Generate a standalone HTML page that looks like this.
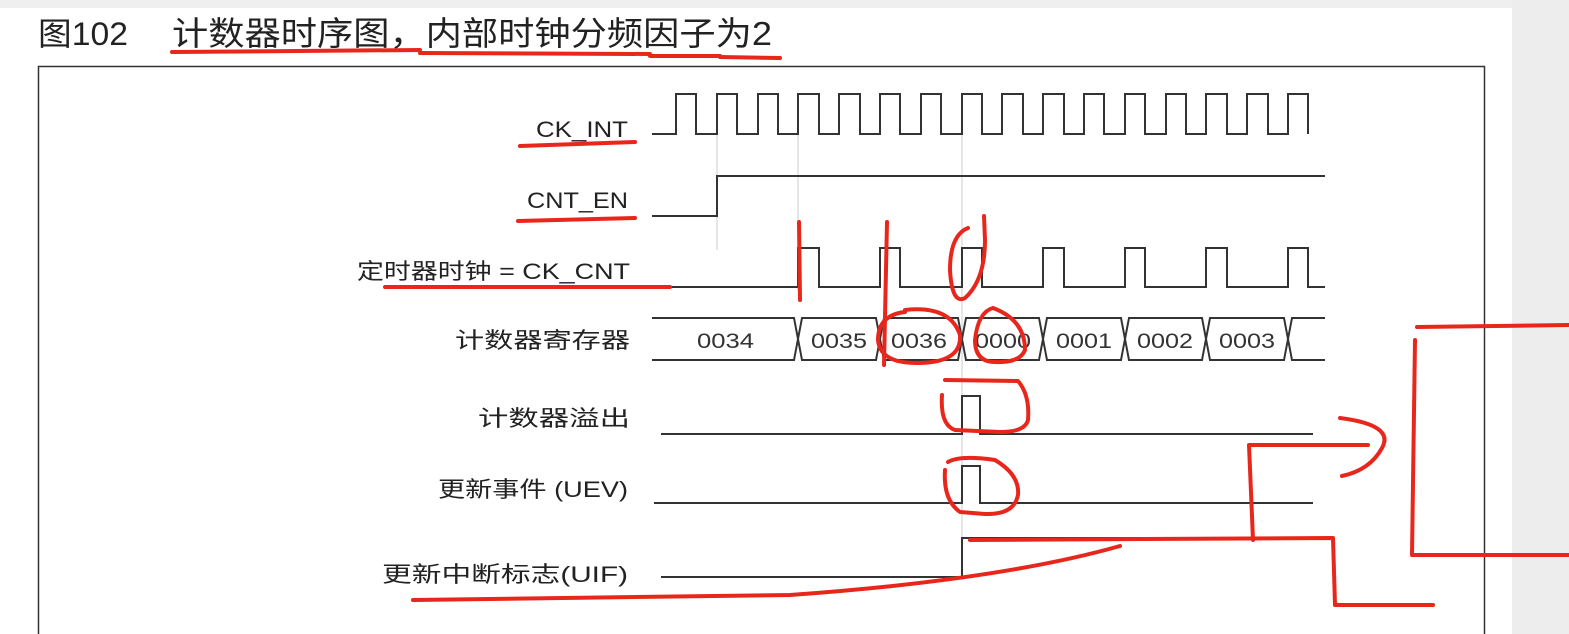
<!DOCTYPE html>
<html><head><meta charset="utf-8"><style>
html,body{margin:0;padding:0;background:#fff}
body{width:1569px;height:634px;position:relative;overflow:hidden;font-family:"Liberation Sans","Noto Sans CJK SC",sans-serif}
</style></head><body>
<svg width="1569" height="634" viewBox="0 0 1569 634" xmlns="http://www.w3.org/2000/svg" style="position:absolute;left:0;top:0">
<rect x="0" y="0" width="1569" height="634" fill="#fff"/>
<rect x="0" y="0" width="1569" height="8" fill="#efefef"/>
<rect x="1512" y="0" width="57" height="634" fill="#ededed"/>
<rect x="38.5" y="66.5" width="1446" height="580" fill="#fff" stroke="#333" stroke-width="1.5"/>
<g font-family="Liberation Sans, Noto Sans CJK SC, sans-serif" fill="#222">
<text x="38" y="45" font-size="32" textLength="90" lengthAdjust="spacingAndGlyphs">图102</text>
<text x="172" y="45" font-size="33" textLength="600" lengthAdjust="spacingAndGlyphs">计数器时序图，内部时钟分频因子为2</text>
</g>
<g stroke="#ccc" stroke-width="1">
<line x1="717" y1="134" x2="717" y2="250"/>
<line x1="798" y1="134" x2="798" y2="290"/>
<line x1="962" y1="134" x2="962" y2="580"/>
</g>
<g font-size="22" fill="#222" font-family="Liberation Sans, Noto Sans CJK SC, sans-serif" lengthAdjust="spacingAndGlyphs">
<text x="536" y="137" textLength="92" lengthAdjust="spacingAndGlyphs">CK_INT</text>
<text x="527" y="208" textLength="101" lengthAdjust="spacingAndGlyphs">CNT_EN</text>
<text x="357" y="279" textLength="273" lengthAdjust="spacingAndGlyphs">定时器时钟 = CK_CNT</text>
<text x="455" y="348" textLength="175" lengthAdjust="spacingAndGlyphs">计数器寄存器</text>
<text x="478" y="426" textLength="152" lengthAdjust="spacingAndGlyphs">计数器溢出</text>
<text x="438" y="497" textLength="190" lengthAdjust="spacingAndGlyphs">更新事件 (UEV)</text>
<text x="382" y="582" textLength="246" lengthAdjust="spacingAndGlyphs">更新中断标志(UIF)</text>
</g>
<g fill="none" stroke="#333" stroke-width="2">
<path d="M652 134 H676 V94 H696 V134 H717 V94 H737 V134 H758 V94 H778 V134 H798 V94 H819 V134 H839 V94 H860 V134 H880 V94 H900 V134 H921 V94 H941 V134 H962 V94 H982 V134 H1002 V94 H1023 V134 H1043 V94 H1064 V134 H1084 V94 H1104 V134 H1125 V94 H1145 V134 H1166 V94 H1186 V134 H1206 V94 H1227 V134 H1247 V94 H1268 V134 H1288 V94 H1308 V134"/>
<path d="M652 216 H717 V176 H1325"/>
<path d="M652 287 H798 V248 H819 V287 H880 V248 H900 V287 H962 V248 H982 V287 H1043 V248 H1064 V287 H1125 V248 H1145 V287 H1206 V248 H1227 V287 H1288 V248 H1308 V287 H1325"/>
<path d="M652 318 H794 L802 360 H876 L884 318 H958 L966 360 H1039 L1047 318 H1121 L1129 360 H1202 L1210 318 H1284 L1292 360 H1325"/>
<path d="M652 360 H794 L802 318 H876 L884 360 H958 L966 318 H1039 L1047 360 H1121 L1129 318 H1202 L1210 360 H1284 L1292 318 H1325"/>
<path d="M661 434 H962 V396 H980 V434 H1313"/>
<path d="M654 503 H962 V466 H980 V503 H1313"/>
<path d="M661 577 H962 V538 H1313"/>
</g>
<g font-size="21" fill="#333" font-family="Liberation Sans, sans-serif">
<text x="697" y="348" textLength="57" lengthAdjust="spacingAndGlyphs">0034</text>
<text x="811" y="348" textLength="56" lengthAdjust="spacingAndGlyphs">0035</text>
<text x="891" y="348" textLength="56" lengthAdjust="spacingAndGlyphs">0036</text>
<text x="975" y="348" textLength="56" lengthAdjust="spacingAndGlyphs">0000</text>
<text x="1056" y="348" textLength="56" lengthAdjust="spacingAndGlyphs">0001</text>
<text x="1137" y="348" textLength="56" lengthAdjust="spacingAndGlyphs">0002</text>
<text x="1219" y="348" textLength="56" lengthAdjust="spacingAndGlyphs">0003</text>
</g>
<g fill="none" stroke="#e8261c" stroke-width="4" stroke-linecap="round" stroke-linejoin="round">
<path d="M172 52 L420 50"/><path d="M420 53 L650 54"/><path d="M650 56 L720 56"/><path d="M720 57 L780 58"/>
<path d="M520 146 L635 142"/>
<path d="M518 221 L635 218"/>
<path d="M385 287 L670 287"/>
<path d="M413 600 L790 595 Q1000 580 1120 546"/>
<path d="M970 540 L1333 538 L1335 605 L1433 605"/>
<path d="M1253 540 L1249 445 L1368 445"/>
<path d="M1340 418 Q1395 425 1382 448 Q1370 470 1342 476"/>
<path d="M1417 327 L1569 325"/>
<path d="M1415 340 L1412 555 L1569 555"/>
<path d="M799 222 L800 300"/>
<path d="M887 222 L884 365"/>
<path d="M968 228 Q950 235 950 270 Q952 305 965 298 Q985 280 985 240 L984 216"/>
<path d="M905 310 Q950 305 960 335 Q962 362 920 363 Q880 364 878 340 Q878 315 905 312"/>
<path d="M993 308 Q1025 320 1025 350 Q1020 363 995 362 Q975 362 975 340 Q978 312 993 308"/>
<path d="M945 380 L1018 381 Q1030 395 1028 420 Q1025 432 1000 432 L955 430 Q940 425 942 395"/>
<path d="M948 462 Q960 455 995 460 Q1020 475 1018 495 Q1014 515 985 514 L960 512 Q943 500 945 470"/>
</g>
</svg>
</body></html>
